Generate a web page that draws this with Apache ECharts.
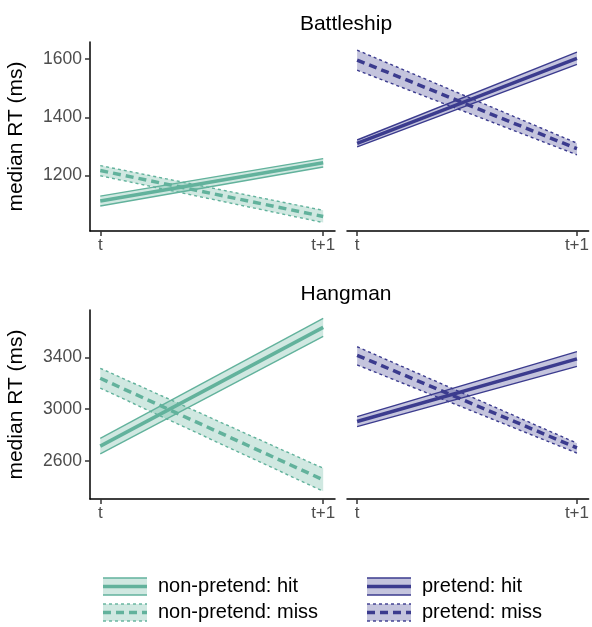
<!DOCTYPE html>
<html>
<head>
<meta charset="utf-8">
<script src="https://cdn.jsdelivr.net/npm/echarts@6/dist/echarts.min.js"></script>
<style>
  html, body { margin: 0; padding: 0; background: #fff; }
  #chart { width: 592px; height: 627px; }
</style>
</head>
<body>
<div id="chart"></div>
<script>
// x positions: 0 = t, 1 = t+1
var xLabels = ['t', 't+1'];
var panelTitles = ['Battleship', 'Hangman'];
var bsTicks = [1200, 1400, 1600];
var hmTicks = [2600, 3000, 3400];

// each row: [lower, median, upper] at t, then at t+1
var bsNonHit  = [[1095, 1112, 1129], [1229, 1244, 1258]];
var bsNonMiss = [[1199, 1217, 1234], [1038, 1059, 1080]];
var bsPreHit  = [[1298, 1310, 1322], [1582, 1603, 1624]];
var bsPreMiss = [[1562, 1597, 1631], [1271, 1292, 1311]];

var hmNonHit  = [[2655, 2715, 2775], [3560, 3630, 3700]];
var hmNonMiss = [[3162, 3238, 3315], [2368, 2456, 2545]];
var hmPreHit  = [[2866, 2905, 2943], [3330, 3387, 3443]];
var hmPreMiss = [[3341, 3415, 3481], [2662, 2702, 2738]];

var teal = '#62b29c';
var navy = '#3b3b8e';
var font = 'Liberation Sans, Arial, sans-serif';

var myChart = echarts.init(document.getElementById('chart'));

var grids = [
  { left: 90,  top: 42,  width: 245, height: 189 },
  { left: 347, top: 42,  width: 245, height: 189 },
  { left: 90,  top: 310, width: 245, height: 189 },
  { left: 347, top: 310, width: 245, height: 189 }
];

var xAxes = grids.map(function (g, i) {
  return {
    type: 'value', gridIndex: i, min: -0.046, max: 1.053,
    axisLine: { onZero: false, lineStyle: { color: '#000', width: 1.5 } },
    axisTick: { customValues: [0, 1], length: 5, lineStyle: { color: '#333', width: 1.5 } },
    axisLabel: {
      customValues: [0, 1], color: '#4d4d4d', fontSize: 17, fontFamily: font, margin: 6,
      formatter: function (v) { return xLabels[Math.round(v)]; }
    },
    splitLine: { show: false }
  };
});

function yAxisFor(i, lo, hi, ticks) {
  var left = (i % 2 === 0);
  return {
    type: 'value', gridIndex: i, min: lo, max: hi, show: left,
    name: left ? 'median RT (ms)' : '', nameLocation: 'middle', nameGap: 63,
    nameTextStyle: { color: '#000', fontSize: 21, fontFamily: font },
    axisLine: { show: true, onZero: false, lineStyle: { color: '#000', width: 1.5 } },
    axisTick: { show: true, customValues: ticks, length: 5, lineStyle: { color: '#333', width: 1.5 } },
    axisLabel: {
      customValues: ticks, color: '#4d4d4d', fontSize: 17.5, fontFamily: font, margin: 8,
      formatter: function (v) { return String(v); }
    },
    splitLine: { show: false }
  };
}

var yAxes = [
  yAxisFor(0, 1009, 1659, bsTicks),
  yAxisFor(1, 1009, 1659, bsTicks),
  yAxisFor(2, 2308, 3764, hmTicks),
  yAxisFor(3, 2308, 3764, hmTicks)
];

var series = [];
function addBand(idx, arr, color, miss) {
  var edge = { color: color, width: 1.4, type: miss ? [3, 3] : 'solid' };
  // ribbon fill between lower and upper bound
  series.push({
    type: 'custom', xAxisIndex: idx, yAxisIndex: idx, silent: true, z: 1,
    data: [[0, 1, arr[0][0], arr[0][2], arr[1][0], arr[1][2]]],
    encode: { x: [0, 1], y: [2, 3, 4, 5] },
    renderItem: function (params, api) {
      var a = api.coord([api.value(0), api.value(2)]);
      var b = api.coord([api.value(1), api.value(4)]);
      var c = api.coord([api.value(1), api.value(5)]);
      var d = api.coord([api.value(0), api.value(3)]);
      return { type: 'polygon', shape: { points: [a, b, c, d] },
        style: { fill: color, opacity: 0.3 } };
    }
  });
  series.push({
    type: 'line', xAxisIndex: idx, yAxisIndex: idx, symbol: 'none', silent: true, z: 2,
    data: [[0, arr[0][0]], [1, arr[1][0]]], lineStyle: edge
  });
  series.push({
    type: 'line', xAxisIndex: idx, yAxisIndex: idx, symbol: 'none', silent: true, z: 2,
    data: [[0, arr[0][2]], [1, arr[1][2]]], lineStyle: edge
  });
  series.push({
    type: 'line', xAxisIndex: idx, yAxisIndex: idx, symbol: 'none', silent: true, z: 3,
    data: [[0, arr[0][1]], [1, arr[1][1]]],
    lineStyle: { color: color, width: 3.5, type: miss ? [8, 5] : 'solid' }
  });
}

addBand(0, bsNonMiss, teal, true);
addBand(0, bsNonHit, teal, false);
addBand(1, bsPreMiss, navy, true);
addBand(1, bsPreHit, navy, false);
addBand(2, hmNonMiss, teal, true);
addBand(2, hmNonHit, teal, false);
addBand(3, hmPreMiss, navy, true);
addBand(3, hmPreHit, navy, false);

// legend keys drawn by hand (ribbon + edges + centre line)
var legendItems = [
  { name: 'non-pretend: hit',  color: teal, miss: false, x: 103, y: 578 },
  { name: 'non-pretend: miss', color: teal, miss: true,  x: 103, y: 604 },
  { name: 'pretend: hit',      color: navy, miss: false, x: 367, y: 578 },
  { name: 'pretend: miss',     color: navy, miss: true,  x: 367, y: 604 }
];
var graphics = [];
legendItems.forEach(function (it) {
  var w = 44, h = 17;
  var edge = { stroke: it.color, lineWidth: 1.4, lineDash: it.miss ? [3, 3] : null };
  graphics.push({ type: 'rect', shape: { x: it.x, y: it.y, width: w, height: h },
    style: { fill: it.color, opacity: 0.3 } });
  graphics.push({ type: 'line', shape: { x1: it.x, y1: it.y, x2: it.x + w, y2: it.y }, style: edge });
  graphics.push({ type: 'line', shape: { x1: it.x, y1: it.y + h, x2: it.x + w, y2: it.y + h }, style: edge });
  graphics.push({ type: 'line', shape: { x1: it.x, y1: it.y + h / 2, x2: it.x + w, y2: it.y + h / 2 },
    style: { stroke: it.color, lineWidth: 3.5, lineDash: it.miss ? [8, 5] : null } });
  graphics.push({ type: 'text', x: it.x + 55, y: it.y + h / 2,
    style: { text: it.name, fill: '#000', font: '20px ' + font, textVerticalAlign: 'middle' } });
});

myChart.setOption({
  animation: false,
  backgroundColor: '#fff',
  title: [
    { text: panelTitles[0], left: 341, top: 9, textAlign: 'center',
      textStyle: { fontSize: 21, fontWeight: 'normal', color: '#000', fontFamily: font } },
    { text: panelTitles[1], left: 341, top: 279, textAlign: 'center',
      textStyle: { fontSize: 21, fontWeight: 'normal', color: '#000', fontFamily: font } }
  ],
  grid: grids,
  xAxis: xAxes,
  yAxis: yAxes,
  series: series,
  graphic: graphics
});
</script>
</body>
</html>
